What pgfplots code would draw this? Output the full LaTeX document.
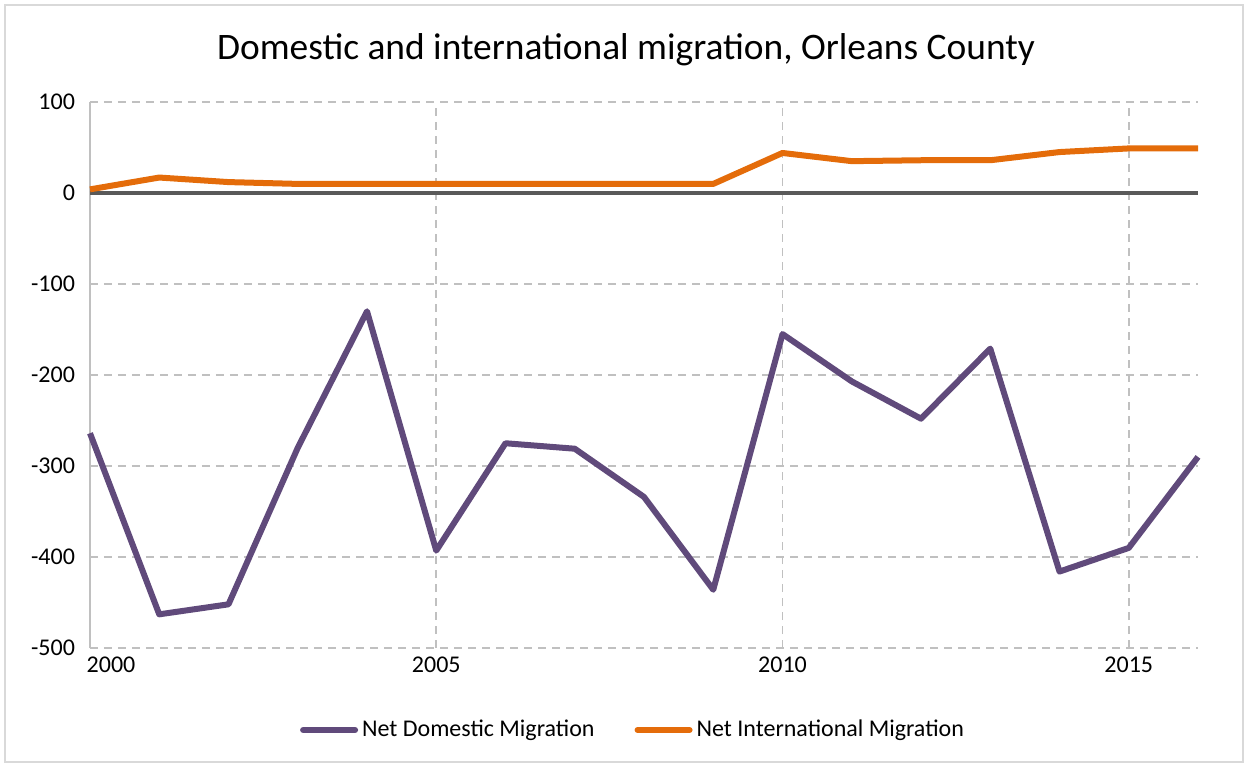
\documentclass[border=0pt]{standalone}
\usepackage{pgfplots}
\pgfplotsset{compat=1.18}
\usepackage{fontspec}
\setmainfont{Carlito}
\definecolor{domc}{HTML}{604A7B}
\definecolor{intc}{HTML}{E46C0A}
\definecolor{zeroc}{HTML}{595959}
\definecolor{gridc}{HTML}{C0C0C0}
\begin{document}
\begin{tikzpicture}
\begin{axis}[
    scale only axis,
    width=554bp, height=273bp,
    xmin=2000, xmax=2016,
    ymin=-500, ymax=100,
    xtick={2000,2005,2010,2015},
    xticklabels={\hspace*{21bp}2000,2005,2010,2015},
    ytick={-500,-400,-300,-200,-100,0,100},
    axis y line*=left,
    axis x line*=bottom,
    y axis line style={gridc, line width=0.8bp},
    x axis line style={draw=none},
    major tick length=0pt,
    grid=major,
    major grid style={gridc, dashed, line width=0.8bp, dash pattern=on 4bp off 3bp},
    /pgf/number format/assume math mode=true,
    /pgf/number format/1000 sep={},
    tick label style={font=\fontsize{12bp}{14bp}\selectfont, black},
    yticklabel style={xshift=-4bp},
    xticklabel style={yshift=-1bp},
    legend style={at={([xshift=-5bp]0.5,-41bp)}, anchor=center, legend columns=2, draw=none,
        font=\fontsize{12bp}{14bp}\selectfont,
        /tikz/every even column/.append style={column sep=18bp}},
    legend image code/.code={\draw[#1, line width=3bp, line cap=round] (0bp,0bp) -- (26bp,0bp);},
    clip=false,
]
\coordinate (sw) at (rel axis cs:0,0);
\draw[zeroc, line width=1.7bp] (axis cs:2000,0) -- (axis cs:2016,0);
\addplot[domc, line width=3bp, line join=round] coordinates {
(2000,-264) (2001,-463) (2002,-452) (2003,-280) (2004,-130) (2005,-393)
(2006,-275) (2007,-281) (2008,-334) (2009,-436) (2010,-155) (2011,-207)
(2012,-248) (2013,-171) (2014,-416) (2015,-390) (2016,-290)};
\addlegendentry{Net Domestic Migration}
\addplot[intc, line width=3bp, line join=round] coordinates {
(2000,4) (2001,17) (2002,12) (2003,10) (2004,10) (2005,10) (2006,10)
(2007,10) (2008,10) (2009,10) (2010,44) (2011,35) (2012,36) (2013,36)
(2014,45) (2015,49) (2016,49)};
\addlegendentry{Net International Migration}
\end{axis}
\useasboundingbox ([shift={(-45bp,-59.5bp)}]sw) rectangle ([shift={(579bp,324bp)}]sw);
\draw[gridc!60, line width=0.8bp] ([shift={(-42.5bp,-57bp)}]sw) rectangle ([shift={(576.5bp,321.5bp)}]sw);
\node[font=\fontsize{18.7bp}{22bp}\selectfont] at ([shift={(268bp,299bp)}]sw) {Domestic and international migration, Orleans County};
\end{tikzpicture}
\end{document}
